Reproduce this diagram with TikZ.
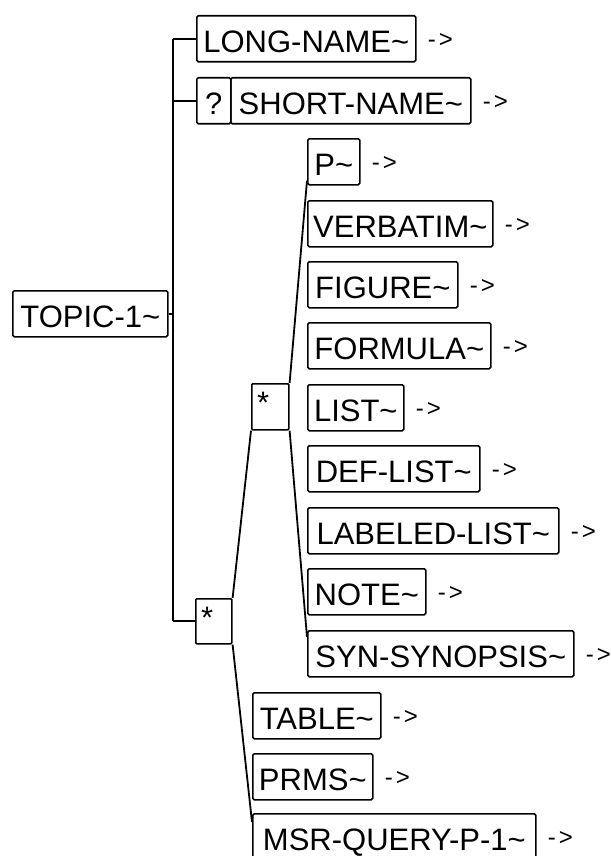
\documentclass[tikz,border=0pt]{standalone}
\usepackage{fontspec}
\setmainfont{Liberation Sans}
\begin{document}
\begin{tikzpicture}[x=1pt,y=-1pt,
  box/.style={draw, line width=1.6pt, rounded corners=1.5pt, minimum height=46pt,
    inner sep=0pt, text height=28pt, text depth=0pt,
    font=\fontsize{31}{31}\selectfont, anchor=north west},
  starbox/.style={draw, line width=1.6pt, rounded corners=1pt, inner sep=0pt, anchor=north west},
  startxt/.style={inner sep=0pt, anchor=north west, font=\fontsize{31}{31}\selectfont},
  arr/.style={font=\fontsize{24}{24}\selectfont, inner sep=0pt, anchor=west},
  wire/.style={line width=1.8pt}]
\useasboundingbox (0,0) rectangle (610,856);
\fill[white] (0,0) rectangle (610,856);

% root
\node[box, minimum width=155pt] (topic) at (12,290) {TOPIC-1\textasciitilde};

% first level
\node[box, minimum width=219pt] (longname) at (196,15) {LONG-NAME\textasciitilde};
\node[box, minimum width=34pt] (q) at (196,77) {?};
\node[box, minimum width=240pt] (shortname) at (230,77) {SHORT-NAME\textasciitilde};
\node[starbox, minimum width=36pt, minimum height=45pt] (star2) at (195,598) {};
\node[startxt] (star2t) at (201,607) {*};

% inner star
\node[starbox, minimum width=37pt, minimum height=46pt] (star1) at (251,383) {};
\node[startxt] (star1t) at (257,392) {*};

% inner children
\node[box, minimum width=52pt]  (p)     at (307,138) {P\textasciitilde};
\node[box, minimum width=185pt] (verb)  at (307,200) {VERBATIM\textasciitilde};
\node[box, minimum width=150pt] (fig)   at (307,261) {FIGURE\textasciitilde};
\node[box, minimum width=183pt] (form)  at (307,322) {FORMULA\textasciitilde};
\node[box, minimum width=96pt]  (list)  at (307,384) {LIST\textasciitilde};
\node[box, minimum width=172pt] (def)   at (307,445) {DEF-LIST\textasciitilde};
\node[box, minimum width=251pt] (lab)   at (307,507) {LABELED-LIST\textasciitilde};
\node[box, minimum width=118pt] (note)  at (307,568) {NOTE\textasciitilde};
\node[box, minimum width=266pt] (syn)   at (307,630) {SYN-SYNOPSIS\textasciitilde};

% outer star children
\node[box, minimum width=128pt] (table) at (252,692) {TABLE\textasciitilde};
\node[box, minimum width=120pt] (prms)  at (252,753) {PRMS\textasciitilde};
\node[box, minimum width=283pt] (msr)   at (252,813) {MSR-QUERY-P-1\textasciitilde};

% arrows
\foreach \n in {longname,shortname,p,verb,fig,form,list,def,lab,note,syn,table,prms,msr}{
  \node[arr] (\n-a) at ([xshift=11pt,yshift=-2pt]\n.east) {-\kern3pt>};
}

% connectors
\coordinate (spine) at (173,0);
\draw[wire] (topic.east) -- (topic.east -| spine);
\draw[wire] (spine |- longname.west) -- (spine |- star2.west);
\draw[wire] (spine |- longname.west) -- (longname.west);
\draw[wire] (spine |- q.west) -- (q.west);
\draw[wire] (spine |- star2.west) -- (star2.west);

\draw[wire] (star2.north east) -- (star1.south west);
\draw[wire] (star2.south east) -- ([yshift=-9pt]msr.north west);
\draw[wire] (star1.north east) -- ([yshift=5pt]p.south west);
\draw[wire] (star1.south east) -- ([yshift=-7pt]syn.north west);
\end{tikzpicture}
\end{document}
